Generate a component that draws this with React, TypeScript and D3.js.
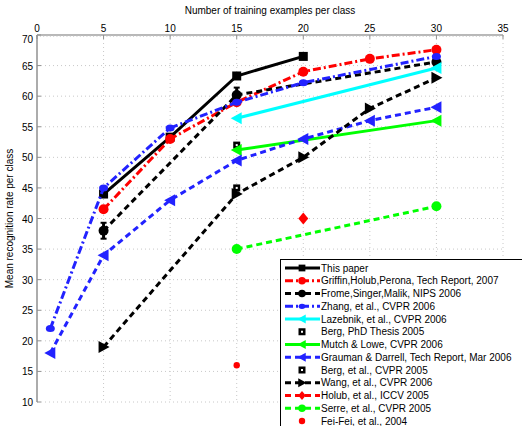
import React, { useRef, useEffect } from 'react'
import * as d3 from 'd3'

// x = training examples per class, y = mean recognition rate
const thisPaperX = [5, 10, 15, 20]
const thisPaperY = [44, 53.3, 63.3, 66.5]
const griffinX = [5, 10, 15, 20, 25, 30]
const griffinY = [41.5, 53, 59, 64, 66.1, 67.6]
const fromeX = [5, 15, 30]
const fromeY = [38, 60.2, 65.6]
const fromeErr = [1.3, 1.2, 0.8]
const zhangX = [1, 5, 10, 15, 20, 30]
const zhangY = [22, 45, 54.8, 59, 62.2, 66.5]
const lazebnikX = [15, 30]
const lazebnikY = [56.4, 64.6]
const bergPhdX = [15]
const bergPhdY = [52]
const mutchX = [15, 30]
const mutchY = [51.2, 56]
const graumanX = [1, 5, 10, 15, 20, 25, 30]
const graumanY = [18, 34, 43, 49.5, 53, 56, 58.2]
const bergCvprX = [15]
const bergCvprY = [45]
const wangX = [5, 15, 20, 25, 30]
const wangY = [19, 44, 50, 58, 63]
const holubX = [20]
const holubY = [40]
const serreX = [15, 30]
const serreY = [35, 42]
const feifeiX = [15]
const feifeiY = [16]

const xTicks = [0, 5, 10, 15, 20, 25, 30, 35]
const yTicks = [10, 15, 20, 25, 30, 35, 40, 45, 50, 55, 60, 65, 70]

const BLUE = '#2222ff'
const DASH = '6,4'
const DASHDOT = '8,3,2,3'

const series = [
    { name: 'This paper', xs: thisPaperX, ys: thisPaperY, color: '#000', dash: null, line: true, marker: 'square' },
    { name: 'Griffin,Holub,Perona, Tech Report, 2007', xs: griffinX, ys: griffinY, color: '#ff0000', dash: DASHDOT, line: true, marker: 'circle' },
    { name: 'Frome,Singer,Malik, NIPS 2006', xs: fromeX, ys: fromeY, color: '#000', dash: DASH, line: true, marker: 'circle', err: fromeErr },
    { name: 'Zhang, et al., CVPR 2006', xs: zhangX, ys: zhangY, color: BLUE, dash: DASHDOT, line: true, marker: 'dot' },
    { name: 'Lazebnik, et al., CVPR 2006', xs: lazebnikX, ys: lazebnikY, color: '#00ffff', dash: null, line: true, marker: 'left' },
    { name: 'Berg, PhD Thesis 2005', xs: bergPhdX, ys: bergPhdY, color: '#000', dash: null, line: false, marker: 'osquare' },
    { name: 'Mutch & Lowe, CVPR 2006', xs: mutchX, ys: mutchY, color: '#00ff00', dash: null, line: true, marker: 'left' },
    { name: 'Grauman & Darrell, Tech Report, Mar 2006', xs: graumanX, ys: graumanY, color: BLUE, dash: DASH, line: true, marker: 'left' },
    { name: 'Berg, et al., CVPR 2005', xs: bergCvprX, ys: bergCvprY, color: '#000', dash: null, line: false, marker: 'osquare' },
    { name: 'Wang, et al., CVPR 2006', xs: wangX, ys: wangY, color: '#000', dash: DASH, line: true, marker: 'right' },
    { name: 'Holub, et al., ICCV 2005', xs: holubX, ys: holubY, color: '#ff0000', dash: DASH, line: true, marker: 'diamond' },
    { name: 'Serre, et al., CVPR 2005', xs: serreX, ys: serreY, color: '#00ff00', dash: DASH, line: true, marker: 'circle' },
    { name: 'Fei-Fei, et al., 2004', xs: feifeiX, ys: feifeiY, color: '#ff0000', dash: null, line: false, marker: 'small' },
]

const drawMarker = (g, kind, cx, cy, color, k = 1) => {
    if (kind === 'square') {
        g.append('rect').attr('x', cx - 4.5 * k).attr('y', cy - 4.5 * k).attr('width', 9 * k).attr('height', 9 * k).attr('fill', color)
    } else if (kind === 'osquare') {
        g.append('rect').attr('x', cx - 3.5).attr('y', cy - 3.5).attr('width', 7).attr('height', 7).attr('fill', color)
        g.append('rect').attr('x', cx - 1).attr('y', cy - 1).attr('width', 2).attr('height', 2).attr('fill', '#fff')
    } else if (kind === 'circle') {
        g.append('circle').attr('cx', cx).attr('cy', cy).attr('r', 5 * k).attr('fill', color)
    } else if (kind === 'dot') {
        g.append('ellipse').attr('cx', cx).attr('cy', cy).attr('rx', 4.5 * k).attr('ry', 3.5 * k).attr('fill', color)
    } else if (kind === 'small') {
        g.append('circle').attr('cx', cx).attr('cy', cy).attr('r', 3.2).attr('fill', color)
    } else if (kind === 'left') {
        g.append('path').attr('d', `M${cx - 6 * k},${cy}L${cx + 5 * k},${cy - 6 * k}L${cx + 5 * k},${cy + 6 * k}Z`).attr('fill', color)
    } else if (kind === 'right') {
        g.append('path').attr('d', `M${cx + 6 * k},${cy}L${cx - 5 * k},${cy - 6 * k}L${cx - 5 * k},${cy + 6 * k}Z`).attr('fill', color)
    } else if (kind === 'diamond') {
        g.append('path').attr('d', `M${cx},${cy - 6 * k}L${cx + 5 * k},${cy}L${cx},${cy + 6 * k}L${cx - 5 * k},${cy}Z`).attr('fill', color)
    }
}

const App = () => {
    const svgRef = useRef()

    useEffect(() => {
        document.body.style.margin = '0'
        const svg = d3.select(svgRef.current)
        svg.selectAll('*').remove()
        const margin = { left: 37, right: 19, top: 35, bottom: 24 }
        const width = 522
        const height = 426
        const font = '"Liberation Sans", Arial, Helvetica, sans-serif'

        const xScale = d3.scaleLinear().domain([0, 35]).range([margin.left, width - margin.right])
        const yScale = d3.scaleLinear().domain([10, 70]).range([height - margin.bottom, margin.top])

        svg.append('rect').attr('width', width).attr('height', height).attr('fill', '#fff')

        //dotted grid
        svg.append('g')
            .selectAll('line')
            .data(xTicks.slice(1))
            .enter()
            .append('line')
            .attr('x1', (d) => xScale(d)).attr('x2', (d) => xScale(d))
            .attr('y1', yScale(70)).attr('y2', yScale(10))
            .attr('stroke', '#c8c8c8').attr('stroke-width', 1).attr('stroke-dasharray', '1,3')
        svg.append('g')
            .selectAll('line')
            .data(yTicks.slice(0, -1))
            .enter()
            .append('line')
            .attr('x1', xScale(0)).attr('x2', xScale(35))
            .attr('y1', (d) => yScale(d)).attr('y2', (d) => yScale(d))
            .attr('stroke', '#c8c8c8').attr('stroke-width', 1).attr('stroke-dasharray', '1,3')

        //top axis with dense minor ticks
        const top = svg.append('g')
        top.append('line')
            .attr('x1', xScale(0)).attr('x2', xScale(35))
            .attr('y1', yScale(70)).attr('y2', yScale(70))
            .attr('stroke', '#a0a0a0').attr('stroke-width', 1.5)
        top.selectAll('.minor')
            .data(d3.range(0, 35.01, 0.25))
            .enter()
            .append('line')
            .attr('x1', (d) => xScale(d)).attr('x2', (d) => xScale(d))
            .attr('y1', yScale(70)).attr('y2', yScale(70) + 2)
            .attr('stroke', '#c0c0c0').attr('stroke-width', 0.7)
        top.selectAll('.major')
            .data(xTicks)
            .enter()
            .append('line')
            .attr('x1', (d) => xScale(d)).attr('x2', (d) => xScale(d))
            .attr('y1', yScale(70)).attr('y2', yScale(70) + 4)
            .attr('stroke', '#909090').attr('stroke-width', 1)
        top.selectAll('text')
            .data(xTicks)
            .enter()
            .append('text')
            .attr('x', (d) => xScale(d))
            .attr('y', yScale(70) - 3)
            .attr('text-anchor', 'middle')
            .style('font-family', font).style('font-size', '10px')
            .text((d) => d)

        //left axis
        const left = svg.append('g')
        left.append('line')
            .attr('x1', xScale(0)).attr('x2', xScale(0))
            .attr('y1', yScale(70)).attr('y2', yScale(10))
            .attr('stroke', '#909090').attr('stroke-width', 1.5)
        left.selectAll('.tick')
            .data(yTicks)
            .enter()
            .append('line')
            .attr('x1', xScale(0)).attr('x2', xScale(0) + 4)
            .attr('y1', (d) => yScale(d)).attr('y2', (d) => yScale(d))
            .attr('stroke', '#909090')
        left.selectAll('text')
            .data(yTicks)
            .enter()
            .append('text')
            .attr('x', xScale(0) - 4)
            .attr('y', (d) => yScale(d) + (d === 70 ? 8 : 4))
            .attr('text-anchor', 'end')
            .style('font-family', font).style('font-size', '10px')
            .text((d) => d)

        //axis labels
        svg.append('text')
            .attr('x', (xScale(0) + xScale(35)) / 2)
            .attr('y', 14)
            .attr('text-anchor', 'middle')
            .style('font-family', font).style('font-size', '10px')
            .text('Number of training examples per class')
        svg.append('text')
            .attr('transform', `translate(13, ${(yScale(10) + yScale(70)) / 2}) rotate(-90)`)
            .attr('text-anchor', 'middle')
            .style('font-family', font).style('font-size', '10px')
            .text('Mean recognition rate per class')

        //series
        const line = d3.line().x((d) => xScale(d[0])).y((d) => yScale(d[1]))
        series.forEach((s) => {
            const pts = s.xs.map((x, i) => [x, s.ys[i]])
            const g = svg.append('g')
            if (s.line && pts.length > 1) {
                g.append('path')
                    .datum(pts)
                    .attr('fill', 'none')
                    .attr('stroke', s.color)
                    .attr('stroke-width', 3)
                    .attr('stroke-dasharray', s.dash)
                    .attr('d', line)
            }
            if (s.err) {
                pts.forEach((p, i) => {
                    const e = s.err[i]
                    g.append('line')
                        .attr('x1', xScale(p[0])).attr('x2', xScale(p[0]))
                        .attr('y1', yScale(p[1] - e)).attr('y2', yScale(p[1] + e))
                        .attr('stroke', s.color).attr('stroke-width', 3)
                    ;[p[1] - e, p[1] + e].forEach((v) => {
                        g.append('line')
                            .attr('x1', xScale(p[0]) - 3).attr('x2', xScale(p[0]) + 3)
                            .attr('y1', yScale(v)).attr('y2', yScale(v))
                            .attr('stroke', s.color).attr('stroke-width', 2)
                    })
                })
            }
            pts.forEach((p) => drawMarker(g, s.marker, xScale(p[0]), yScale(p[1]), s.color))
        })

        //legend
        const lg = svg.append('g')
        lg.append('rect')
            .attr('x', 280.5).attr('y', 259.5)
            .attr('width', 260).attr('height', 200)
            .attr('fill', '#fff').attr('stroke', '#000').attr('stroke-width', 1)
        series.forEach((s, i) => {
            const y = 268 + i * 12.75
            if (s.line) {
                lg.append('line')
                    .attr('x1', 285).attr('x2', 320)
                    .attr('y1', y).attr('y2', y)
                    .attr('stroke', s.color).attr('stroke-width', 3)
                    .attr('stroke-dasharray', s.dash)
            }
            drawMarker(lg, s.marker, 302, y, s.color, 0.75)
            lg.append('text')
                .attr('x', 321)
                .attr('y', y + 3.5)
                .style('font-family', font).style('font-size', '10px')
                .text(s.name)
        })
    }, [])

    return <svg ref={svgRef} width={522} height={426} style={{ display: 'block' }} />
}

export default App
